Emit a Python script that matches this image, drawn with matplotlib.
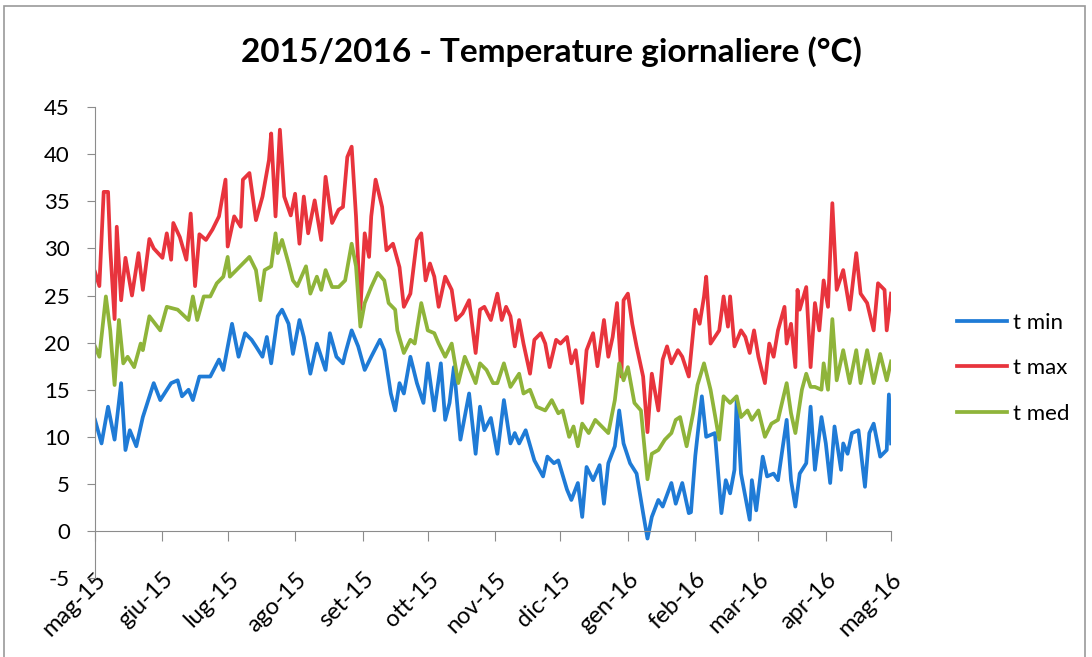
import matplotlib
matplotlib.use("Agg")
import matplotlib.pyplot as plt
import pandas as pd
from matplotlib.patches import Rectangle

# days counted from 1 May 2015 (deg C)
tmax_day = [0, 2, 4, 6, 7, 9, 10, 12, 14, 17, 20, 22, 25, 27, 31, 33, 35, 36, 39, 42,
            44, 46, 48, 51, 54, 57, 60, 61, 64, 67, 68, 71, 74, 77, 80, 81, 83, 85, 87, 90,
            92, 94, 96, 98, 101, 104, 106, 109, 112, 114, 116, 118, 120, 122, 124, 126, 127, 129, 132, 134,
            137, 140, 142, 145, 148, 150, 152, 154, 156, 158, 161, 164, 166, 169, 172, 175, 177, 179, 182, 185,
            187, 189, 191, 193, 195, 197, 200, 202, 205, 207, 209, 212, 214, 217, 219, 221, 224, 226, 229, 231,
            234, 236, 238, 240, 242, 243, 245, 247, 249, 252, 254, 256, 259, 261, 263, 265, 268, 270, 273, 276,
            278, 280, 281, 283, 285, 287, 289, 291, 292, 294, 297, 299, 301, 303, 305, 308, 310, 312, 314, 317,
            318, 320, 322, 323, 324, 327, 329, 331, 333, 335, 337, 339, 341, 344, 347, 350, 352, 355, 358, 360,
            363, 364, 366]
tmax = [27.5, 26.0, 36.0, 36.0, 30.0, 22.5, 32.3, 24.5, 29.0, 25.0, 29.5, 25.6, 31.0, 30.0, 29.0, 31.6, 28.8, 32.7, 31.2, 28.8,
        33.7, 26.0, 31.5, 30.9, 32.0, 33.4, 37.3, 30.2, 33.4, 32.3, 37.3, 38.0, 33.0, 35.5, 39.4, 42.2, 33.4, 42.6, 35.5, 33.5,
        35.8, 30.5, 35.5, 31.6, 35.1, 30.9, 37.6, 32.7, 34.1, 34.4, 39.7, 40.8, 33.4, 23.5, 31.6, 29.1, 33.4, 37.3, 34.4, 29.8,
        30.5, 28.0, 23.8, 25.2, 30.9, 31.6, 26.6, 28.4, 27.0, 23.8, 27.0, 25.6, 22.4, 23.1, 24.5, 18.9, 23.5, 23.8, 22.4, 25.2,
        22.4, 23.8, 22.8, 19.6, 22.4, 19.9, 16.7, 20.3, 21.0, 19.9, 17.4, 20.3, 19.9, 20.6, 17.8, 19.2, 13.6, 19.2, 21.0, 17.5,
        22.4, 18.5, 20.6, 24.2, 16.4, 24.5, 25.2, 22.0, 19.6, 16.4, 10.5, 16.7, 12.8, 18.2, 19.6, 17.8, 19.2, 18.5, 16.4, 23.5,
        22.0, 24.9, 27.0, 19.9, 20.6, 21.3, 24.9, 21.7, 24.9, 19.6, 21.3, 20.6, 18.9, 21.3, 18.5, 15.7, 19.9, 18.5, 21.3, 23.8,
        19.9, 22.0, 17.4, 25.6, 23.5, 25.9, 17.4, 24.2, 21.3, 26.6, 23.8, 34.8, 25.6, 27.7, 23.5, 29.5, 25.2, 24.2, 21.3, 26.3,
        25.6, 21.3, 25.2]

tmed_day = [0, 2, 5, 7, 9, 11, 13, 15, 18, 21, 22, 25, 30, 33, 38, 43, 45, 47, 50, 53,
            56, 59, 61, 62, 65, 68, 71, 74, 76, 78, 81, 83, 84, 86, 89, 91, 93, 97, 99, 102,
            104, 106, 109, 112, 115, 118, 120, 122, 124, 127, 130, 133, 135, 138, 139, 142, 145, 147, 150, 153,
            156, 158, 161, 164, 167, 170, 172, 175, 177, 180, 183, 185, 188, 191, 195, 197, 200, 203, 207, 210,
            213, 215, 218, 220, 222, 224, 227, 230, 233, 236, 239, 241, 243, 245, 248, 251, 254, 256, 259, 262,
            265, 267, 269, 272, 275, 277, 280, 283, 287, 289, 292, 295, 297, 300, 302, 305, 308, 311, 314, 318,
            320, 322, 325, 327, 329, 331, 334, 335, 337, 339, 341, 344, 347, 350, 352, 355, 358, 361, 364, 366]
tmed = [19.6, 18.5, 24.9, 21.3, 15.5, 22.4, 17.8, 18.5, 17.4, 19.9, 19.2, 22.8, 21.3, 23.8, 23.5, 22.4, 24.9, 22.4, 24.9, 24.9,
        26.3, 27.0, 29.1, 27.0, 27.7, 28.4, 29.1, 27.7, 24.5, 27.7, 28.1, 31.6, 29.5, 30.9, 28.4, 26.6, 26.0, 28.1, 25.2, 27.0,
        25.6, 27.7, 25.9, 25.9, 26.6, 30.5, 28.1, 21.7, 24.2, 25.9, 27.4, 26.6, 24.2, 23.5, 21.3, 18.9, 20.3, 19.9, 24.2, 21.3,
        21.0, 19.9, 18.5, 19.9, 15.7, 18.5, 17.4, 15.7, 17.8, 17.1, 15.7, 15.7, 17.8, 15.3, 16.7, 14.6, 15.0, 13.2, 12.8, 13.9,
        12.5, 12.8, 10.0, 11.1, 9.0, 11.4, 10.4, 11.8, 11.1, 10.4, 13.9, 17.8, 16.0, 17.4, 13.6, 12.8, 5.5, 8.2, 8.6, 9.7,
        10.4, 11.8, 12.1, 9.0, 12.5, 15.5, 17.8, 15.0, 9.7, 14.3, 13.6, 14.3, 12.1, 12.8, 11.8, 12.8, 10.0, 11.4, 11.8, 15.7,
        12.5, 10.4, 15.0, 16.7, 15.3, 15.3, 15.0, 17.8, 15.0, 22.5, 16.0, 19.2, 15.7, 19.2, 15.7, 19.2, 15.7, 18.8, 16.0, 18.0]

tmin_day = [0, 3, 6, 9, 12, 14, 16, 19, 22, 27, 30, 35, 38, 40, 43, 45, 48, 53, 57, 59,
            63, 66, 69, 72, 74, 77, 79, 81, 84, 86, 89, 91, 94, 96, 99, 102, 106, 108, 111, 114,
            115, 118, 121, 124, 127, 131, 133, 136, 138, 140, 142, 145, 148, 151, 153, 156, 159, 161, 163, 165,
            168, 172, 175, 177, 179, 182, 185, 188, 191, 193, 195, 198, 202, 206, 208, 211, 213, 217, 219, 222,
            224, 226, 229, 232, 234, 236, 239, 241, 243, 246, 249, 252, 254, 256, 259, 261, 265, 267, 270, 273,
            274, 276, 279, 281, 285, 288, 290, 292, 294, 295, 297, 301, 302, 304, 307, 309, 312, 314, 318, 320,
            322, 324, 327, 329, 331, 334, 336, 338, 340, 343, 344, 346, 348, 351, 354, 356, 358, 361, 364, 365,
            366]
tmin = [11.8, 9.3, 13.2, 9.7, 15.7, 8.6, 10.7, 9.0, 12.1, 15.7, 13.9, 15.7, 16.0, 14.3, 15.0, 13.9, 16.4, 16.4, 18.2, 17.1,
        22.0, 18.5, 21.0, 20.3, 19.6, 18.5, 20.6, 17.8, 22.8, 23.5, 22.0, 18.8, 22.4, 20.6, 16.7, 19.9, 17.1, 21.0, 18.5, 17.8,
        18.8, 21.3, 19.6, 17.1, 18.5, 20.3, 19.2, 14.6, 12.8, 15.7, 14.6, 18.5, 15.7, 13.6, 17.8, 12.8, 17.8, 11.8, 13.6, 17.4,
        9.7, 14.6, 8.2, 13.2, 10.7, 12.0, 8.2, 13.9, 9.3, 10.4, 9.3, 10.7, 7.5, 5.8, 7.9, 7.2, 7.5, 4.4, 3.3, 5.1,
        1.5, 6.8, 5.4, 7.0, 2.9, 7.2, 9.0, 12.8, 9.3, 7.2, 6.1, 1.9, -0.8, 1.5, 3.3, 2.6, 5.1, 2.9, 5.1, 1.9,
        2.0, 8.0, 14.3, 10.0, 10.4, 1.9, 5.4, 4.0, 6.5, 13.9, 6.1, 1.2, 5.4, 2.2, 7.9, 5.8, 6.1, 5.4, 11.8, 5.4,
        2.6, 6.1, 7.2, 13.2, 6.5, 12.1, 9.3, 5.1, 11.1, 6.5, 9.3, 8.2, 10.4, 10.7, 4.7, 10.4, 11.4, 7.9, 8.6, 14.5,
        9.3]

month_labels = ["mag-15", "giu-15", "lug-15", "ago-15", "set-15", "ott-15", "nov-15",
                "dic-15", "gen-16", "feb-16", "mar-16", "apr-16", "mag-16"]

start = pd.Timestamp("2015-05-01")
months = pd.date_range("2015-05-01", "2016-05-01", freq="MS")

def to_dates(days):
    return start + pd.to_timedelta(days, unit="D")

plt.rcParams["font.family"] = ["Lato", "DejaVu Sans"]
plt.rcParams["axes.unicode_minus"] = False

fig = plt.figure(figsize=(10.92, 6.57), dpi=100)
ax = fig.add_axes([0.087, 0.120, 0.729, 0.717])

ax.plot(to_dates(tmin_day), tmin, color="#1f7bd6", lw=2.7, label="t min")
ax.plot(to_dates(tmax_day), tmax, color="#e8343d", lw=2.7, label="t max")
ax.plot(to_dates(tmed_day), tmed, color="#8fb43a", lw=2.7, label="t med")

ax.set_xlim(months[0], months[-1])
ax.set_ylim(-5, 45)
ax.set_yticks(range(-5, 46, 5))

# excel style axes
for s in ["top", "right"]:
    ax.spines[s].set_visible(False)
ax.spines["bottom"].set_position(("data", 0))
ax.spines["bottom"].set_color("#8c8c8c")
ax.spines["left"].set_color("#8c8c8c")
ax.tick_params(axis="both", colors="#8c8c8c", labelcolor="black", labelsize=16)
ax.tick_params(axis="x", length=7, pad=20)
ax.tick_params(axis="y", length=6, pad=12)

ax.set_xticks(months)
ax.set_xticklabels(month_labels, rotation=45, ha="right", va="top",
                   rotation_mode="anchor", fontsize=17)

fig.text(0.505, 0.922, "2015/2016 - Temperature giornaliere (°C)", ha="center", va="center",
         fontsize=24, fontweight="bold")

ax.legend(loc="center left", bbox_to_anchor=(1.058, 0.446), frameon=False, fontsize=16,
          handlelength=2.25, handletextpad=0.25, labelspacing=1.15)

# chart border
fig.patches.append(Rectangle((0.004, -0.05), 0.99, 1.041, transform=fig.transFigure,
                             fill=False, edgecolor="#9a9a9a", lw=1.2))

fig.savefig("out.png", dpi=100)
